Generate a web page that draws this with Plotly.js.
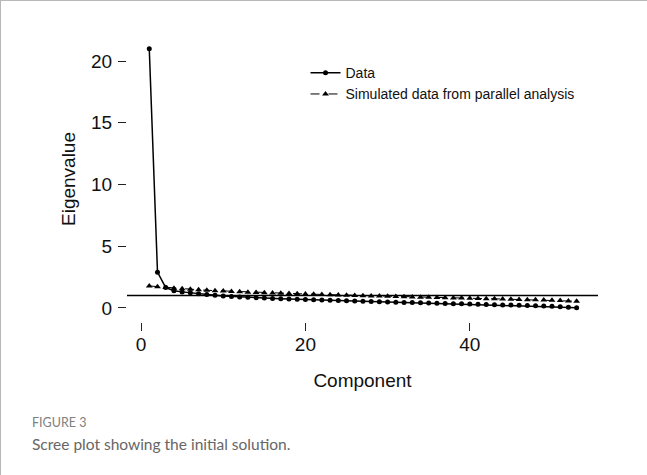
<!DOCTYPE html>
<html>
<head>
<meta charset="utf-8">
<script src="https://cdn.plot.ly/plotly-3.0.1.min.js"></script>
<style>
  html, body { margin: 0; padding: 0; background: #fff; }
  #wrap { position: relative; width: 646px; height: 474px; border-top: 1px solid #b8b8b8; border-left: 1px solid #b8b8b8; overflow: hidden; }
  #chart { width: 646px; height: 474px; }
</style>
</head>
<body>
<div id="wrap"><div id="chart"></div></div>
<script>
// Components 1..53
const components = Array.from({length: 53}, (_, i) => i + 1);

const dataEigen = [
  21.0, 2.9, 1.65, 1.40, 1.30, 1.22, 1.15, 1.08, 1.02, 0.97,
  0.93, 0.89, 0.86, 0.83, 0.80, 0.77, 0.75, 0.72, 0.70, 0.68,
  0.66, 0.64, 0.62, 0.60, 0.58, 0.56, 0.54, 0.52, 0.50, 0.48,
  0.46, 0.44, 0.43, 0.41, 0.39, 0.38, 0.36, 0.34, 0.33, 0.31,
  0.29, 0.28, 0.26, 0.24, 0.23, 0.21, 0.19, 0.17, 0.15, 0.13,
  0.10, 0.06, 0.02
];

// Simulated eigenvalues from parallel analysis
const simEigen = [
  1.78, 1.72, 1.66, 1.60, 1.55, 1.51, 1.47, 1.43, 1.40, 1.37,
  1.34, 1.31, 1.28, 1.26, 1.23, 1.21, 1.19, 1.17, 1.15, 1.13,
  1.11, 1.09, 1.07, 1.05, 1.03, 1.01, 0.99, 0.97, 0.96, 0.94,
  0.92, 0.91, 0.89, 0.87, 0.86, 0.84, 0.83, 0.81, 0.80, 0.78,
  0.77, 0.75, 0.74, 0.72, 0.71, 0.69, 0.67, 0.66, 0.64, 0.62,
  0.60, 0.57, 0.54
];

const seriesNames = ["Data", "Simulated data from parallel analysis"];
const xTicks = [0, 20, 40];
const yTicks = [0, 5, 10, 15, 20];
const refLine = 1;

const font = "Liberation Sans, Arial, sans-serif";
const capFont = "Lato, Open Sans, sans-serif";

const traces = [
  {
    x: components, y: dataEigen, name: seriesNames[0],
    type: "scatter", mode: "lines+markers",
    line: {color: "#000", width: 1.5},
    marker: {symbol: "circle", size: 5, color: "#000"}
  },
  {
    x: components, y: simEigen, name: seriesNames[1],
    type: "scatter", mode: "lines+markers",
    line: {color: "#000", width: 1, dash: "dash"},
    marker: {symbol: "triangle-up", size: 6, color: "#000"}
  }
];

const layout = {
  width: 646, height: 474,
  margin: {l: 126, r: 49, t: 35, b: 153},
  paper_bgcolor: "#fff", plot_bgcolor: "#fff",
  font: {family: font, color: "#111", size: 19},
  showlegend: true,
  legend: {
    x: 0.379, y: 0.926, xanchor: "left", yanchor: "top",
    font: {family: font, size: 14, color: "#111"},
    bgcolor: "rgba(0,0,0,0)", tracegroupgap: 0
  },
  xaxis: {
    range: [-1.71, 55.6], tickvals: xTicks, ticktext: xTicks.map(String),
    showline: false, showgrid: false, zeroline: false,
    ticks: "outside", ticklen: 8, tickwidth: 1, tickcolor: "#222",
    ticklabelstandoff: -3,
    tickfont: {family: font, size: 19, color: "#111"},
    title: {text: "Component", font: {family: font, size: 19, color: "#111"}, standoff: 19}
  },
  yaxis: {
    range: [-1.14, 22.03], tickvals: yTicks, ticktext: yTicks.map(String),
    showline: false, showgrid: false, zeroline: false,
    ticks: "outside", ticklen: 8, tickwidth: 1, tickcolor: "#222",
    ticklabelstandoff: 2,
    tickfont: {family: font, size: 19, color: "#111"},
    title: {text: "Eigenvalue", font: {family: font, size: 19, color: "#111"}, standoff: 10}
  },
  shapes: [
    {type: "line", xref: "paper", x0: 0, x1: 1, yref: "y", y0: refLine, y1: refLine,
     line: {color: "#000", width: 1.5}}
  ],
  annotations: [
    {text: "FIGURE 3", xref: "paper", yref: "paper", x: -0.206, y: -0.352,
     xanchor: "left", yanchor: "middle", showarrow: false,
     font: {family: capFont, size: 12.5, color: "#808080"}},
    {text: "Scree plot showing the initial solution.", xref: "paper", yref: "paper", x: -0.206, y: -0.426,
     xanchor: "left", yanchor: "middle", showarrow: false,
     font: {family: capFont, size: 15.5, color: "#666"}}
  ]
};

Plotly.newPlot("chart", traces, layout, {displayModeBar: false, staticPlot: true});
</script>
</body>
</html>
